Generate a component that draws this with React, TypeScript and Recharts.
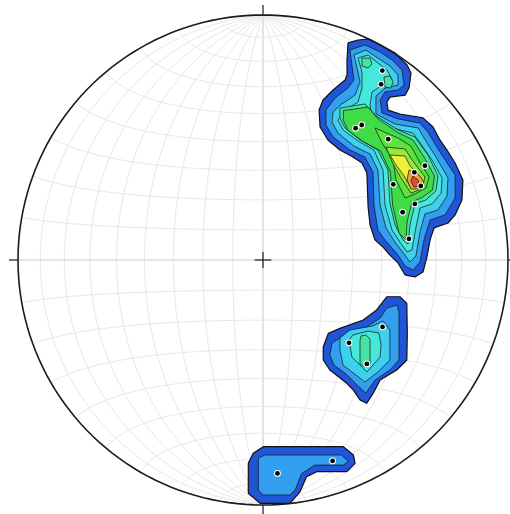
import React from 'react';
import { ScatterChart, Scatter, XAxis, YAxis } from 'recharts';

// Net coordinates in percent of the primitive radius: x = east, y = north.
type Pt = [number, number];

// NE cluster, density contours from lowest to highest level
const NE_L1: Pt[] = [
  [34.7, 88.6], [38.8, 89.8], [42.9, 90.2], [47.8, 87.8], [53.9, 84.5], [58.8, 79.6], [60.4, 76.3],
  [59.6, 70.2], [58.0, 67.3], [51.8, 66.5], [50.6, 64.5], [51.0, 61.2], [55.9, 59.6], [65.3, 58.0],
  [69.4, 54.3], [72.2, 49.0], [75.1, 44.9], [78.4, 39.6], [81.6, 32.7], [81.2, 24.5], [78.4, 18.4],
  [75.5, 15.1], [69.8, 13.1], [68.2, 8.2], [66.9, 1.2], [65.3, -4.9], [62.0, -6.9], [58.0, -6.1],
  [55.1, -1.2], [51.8, 2.0], [49.0, 5.3], [45.7, 8.2], [43.7, 14.3], [42.9, 21.6], [42.4, 35.5],
  [40.4, 39.6], [36.7, 42.0], [31.4, 44.9], [26.5, 49.0], [23.3, 54.3], [22.9, 61.2], [24.5, 65.3],
  [28.6, 69.4], [33.5, 73.5], [34.3, 75.5], [34.3, 81.6],
];
const NE_L2: Pt[] = [
  [35.5, 85.7], [41.6, 87.8], [47.8, 84.9], [52.7, 81.6], [56.7, 77.6], [57.6, 71.4], [55.1, 69.4],
  [49.8, 68.6], [47.8, 65.3], [48.6, 60.0], [55.1, 57.6], [64.1, 55.9], [67.3, 52.2], [72.2, 44.1],
  [78.4, 34.7], [78.4, 25.3], [74.3, 18.4], [68.2, 16.3], [65.7, 8.2], [64.1, -0.8], [61.2, -4.1],
  [58.0, -2.4], [55.1, 2.0], [49.8, 8.2], [46.9, 12.2], [45.3, 22.4], [44.9, 35.9], [41.6, 42.0],
  [35.5, 44.9], [28.6, 50.2], [25.7, 55.1], [25.7, 61.2], [29.4, 66.1], [34.7, 70.2], [37.1, 73.5],
  [36.3, 79.6],
];
const NE_L3: Pt[] = [
  [37.1, 83.7], [42.0, 85.7], [46.9, 82.4], [51.8, 79.2], [55.1, 75.5], [55.1, 71.4], [49.8, 70.2],
  [46.1, 66.9], [46.1, 59.6], [53.9, 55.5], [63.3, 53.9], [65.7, 49.8], [70.6, 42.0], [75.5, 33.5],
  [75.1, 26.1], [71.4, 20.4], [66.1, 18.8], [64.1, 11.4], [62.4, 1.6], [60.0, -0.8], [57.6, 2.4],
  [53.9, 7.3], [50.2, 13.1], [47.8, 22.4], [46.9, 36.7], [43.7, 43.3], [37.1, 46.5], [30.6, 51.8],
  [28.2, 56.3], [28.6, 60.4], [32.2, 63.7], [37.6, 67.3], [39.6, 72.7], [38.4, 78.4],
];
const NE_L4: Pt[] = [
  [38.8, 82.4], [42.9, 83.7], [46.9, 80.4], [51.0, 77.1], [52.7, 73.5], [49.4, 71.8], [44.5, 68.6],
  [43.7, 63.3], [44.5, 58.0], [52.7, 53.9], [61.2, 51.8], [64.1, 47.8], [69.0, 40.8], [73.1, 33.5],
  [72.7, 27.3], [69.0, 22.9], [64.1, 21.2], [62.4, 13.1], [60.8, 4.1], [58.8, 3.3], [55.9, 7.3],
  [52.7, 12.2], [49.8, 22.4], [49.0, 36.7], [45.3, 44.9], [38.8, 48.6], [32.7, 53.1], [30.6, 57.1],
  [33.5, 61.2], [38.8, 64.5], [40.4, 70.2], [40.4, 76.7],
];
const NE_L5: Pt[] = [
  [31.4, 62.0], [41.6, 63.7], [46.1, 58.8], [55.1, 53.1], [62.0, 50.2], [67.3, 42.9], [71.4, 34.3],
  [70.6, 28.2], [66.5, 24.5], [62.0, 22.9], [60.0, 14.3], [59.2, 6.5], [57.1, 8.2], [53.9, 14.3],
  [51.8, 23.3], [51.0, 36.7], [46.9, 44.9], [39.6, 49.0], [33.5, 53.9], [31.4, 58.0],
];
const NE_SPOT_A: Pt[] = [[40.4, 82.4], [43.7, 82.4], [44.5, 80.0], [42.9, 78.4], [40.4, 79.2]];
const NE_SPOT_B: Pt[] = [[49.4, 74.7], [51.8, 75.1], [53.1, 72.7], [52.2, 70.2], [49.8, 70.6]];
const NE_L6: Pt[] = [
  [32.8, 61.0], [42.9, 62.4], [46.9, 57.6], [55.1, 52.0], [61.2, 49.0], [66.0, 41.6], [70.0, 34.3],
  [69.2, 28.6], [64.9, 25.5], [60.8, 23.7], [58.8, 15.5], [58.4, 8.2], [55.5, 11.0], [52.9, 22.4],
  [52.0, 35.9], [48.0, 44.5], [40.8, 48.4], [34.7, 52.9], [32.8, 57.1],
];
const NE_L7: Pt[] = [
  [45.7, 53.9], [55.1, 49.8], [60.4, 46.5], [63.7, 40.4], [67.8, 33.9], [66.5, 29.4], [62.0, 26.9],
  [58.0, 25.3], [54.3, 32.7], [53.1, 40.8], [48.6, 47.8],
];
const NE_L8: Pt[] = [
  [50.2, 46.1], [58.0, 45.3], [61.2, 40.4], [66.1, 33.9], [64.9, 29.0], [60.4, 27.3], [56.3, 33.5],
  [53.1, 39.2],
];
const NE_L9: Pt[] = [
  [51.8, 42.9], [58.0, 42.4], [60.0, 38.4], [64.5, 33.5], [63.3, 30.2], [60.4, 29.4], [57.6, 34.3],
  [54.3, 38.8],
];
const NE_L10: Pt[] = [[59.6, 36.7], [63.3, 35.1], [65.7, 31.8], [63.3, 29.0], [60.4, 29.0], [58.8, 32.7]];
const NE_L11: Pt[] = [[61.2, 34.3], [63.3, 32.7], [63.7, 30.2], [61.6, 29.8], [60.4, 32.2]];

// E cluster below the equator
const E_L1: Pt[] = [
  [50.5, -15.0], [55.9, -15.0], [58.7, -17.7], [58.9, -29.9], [58.7, -40.8], [54.6, -44.9],
  [47.8, -49.0], [45.0, -54.4], [42.3, -58.5], [39.6, -57.1], [36.9, -53.1], [34.2, -50.3],
  [27.3, -44.9], [24.6, -40.8], [24.6, -35.4], [26.7, -29.9], [31.4, -27.9], [40.9, -24.5],
  [46.4, -20.4],
];
const E_L2: Pt[] = [
  [50.6, -19.6], [54.7, -18.4], [55.5, -21.2], [55.5, -40.8], [51.8, -44.9], [45.7, -49.0],
  [42.0, -54.3], [38.8, -51.4], [33.9, -46.5], [29.0, -42.9], [27.3, -38.8], [28.2, -33.9],
  [32.7, -31.0], [41.6, -27.8], [47.8, -23.7],
];
const E_L3: Pt[] = [
  [35.5, -28.6], [44.9, -26.9], [49.0, -24.9], [51.8, -28.6], [51.8, -40.8], [46.9, -45.7],
  [41.6, -49.8], [36.3, -45.7], [32.7, -42.9], [31.4, -36.7], [31.4, -31.8],
];
const E_L4: Pt[] = [
  [36.7, -30.6], [42.9, -29.0], [47.3, -29.8], [48.2, -34.7], [47.8, -39.6], [42.4, -45.7],
  [36.3, -39.6], [35.1, -32.7],
];
const E_L5: Pt[] = [
  [40.0, -31.0], [42.0, -30.6], [43.7, -32.2], [43.7, -42.4], [41.6, -43.7], [39.6, -42.4], [39.6, -32.7],
];

// S cluster on the primitive
const S_L1: Pt[] = [
  [-6.0, -83.0], [-4.0, -78.9], [0.1, -76.2], [32.8, -76.2], [36.9, -79.6], [37.6, -83.0],
  [34.2, -86.4], [21.9, -86.4], [17.8, -88.4], [15.1, -94.6], [11.0, -99.3], [-1.2, -99.3], [-6.0, -95.2],
];
const S_L2: Pt[] = [
  [-1.9, -80.9], [0.8, -79.6], [32.1, -79.6], [34.8, -82.3], [32.8, -83.7], [21.2, -83.7],
  [15.8, -87.1], [13.1, -93.9], [11.0, -95.9], [0.1, -95.9], [-1.9, -93.9],
];

const POLES: Pt[] = [
  [48.7, 77.3], [48.2, 71.7], [37.8, 53.8], [40.3, 55.1], [51.1, 49.3], [66.1, 38.5], [61.8, 35.8],
  [53.2, 30.9], [64.4, 30.2], [62.0, 22.9], [57.0, 19.5], [59.6, 8.6],
  [48.8, -27.3], [35.1, -33.8], [42.4, -42.4],
  [5.9, -87.1], [28.4, -82.0],
];

const LEVEL_COLORS = [
  '#1f55d6', '#339ff0', '#3fd0ee', '#46e8dc', '#48e3a4', '#3fdc48',
  '#5fe23c', '#98e83c', '#eef03c', '#f0a040', '#d9502e',
];

const CONTOURS: { level: number; pts: Pt[] }[] = [
  ...[NE_L1, NE_L2, NE_L3, NE_L4, NE_L5, NE_L6, NE_L7, NE_L8, NE_L9, NE_L10, NE_L11].map((pts, level) => ({ level, pts })),
  { level: 4, pts: NE_SPOT_A },
  { level: 4, pts: NE_SPOT_B },
  ...[E_L1, E_L2, E_L3, E_L4, E_L5].map((pts, level) => ({ level, pts })),
  ...[S_L1, S_L2].map((pts, level) => ({ level, pts })),
].sort((a, b) => a.level - b.level);

// N, S, W, E ticks and the centre cross
const TICKS: [Pt, Pt][] = [
  [[0, 100], [0, 104.1]],
  [[0, -100], [0, -104]],
  [[-100, 0], [-103.7, 0]],
  [[100, 0], [103.7, 0]],
  [[-3.4, 0], [3.4, 0]],
  [[0, -3.3], [0, 3.3]],
];

const X_DOMAIN = [-107.35, 100.82];
const Y_DOMAIN = [-103.67, 106.12];

// Schmidt (equal-area) net, lower hemisphere
const rad = Math.PI / 180;
function schmidt(lon: number, lat: number) {
  const x = Math.cos(lat * rad) * Math.sin(lon * rad);
  const y = Math.sin(lat * rad);
  const z = Math.cos(lat * rad) * Math.cos(lon * rad);
  const k = 100 / Math.sqrt(1 + z);
  return { x: x * k, y: y * k };
}

const range = (a: number, b: number, s: number) => {
  const out: number[] = [];
  for (let v = a; v <= b + 1e-9; v += s) out.push(v);
  return out;
};

const gridLines: { key: string; main: boolean; data: { x: number; y: number }[] }[] = [
  ...range(-80, 80, 10).map((lon) => ({
    key: `m${lon}`,
    main: lon === 0,
    data: range(-90, 90, 2).map((lat) => schmidt(lon, lat)),
  })),
  ...range(-80, 80, 10).map((lat) => ({
    key: `s${lat}`,
    main: lat === 0,
    data: range(-90, 90, 2).map((lon) => schmidt(lon, lat)),
  })),
];

const primitive = range(0, 360, 2).map((a) => ({ x: 100 * Math.cos(a * rad), y: 100 * Math.sin(a * rad) }));

const closed = (pts: Pt[]) => [...pts, pts[0]].map(([x, y]) => ({ x, y }));
const NoShape = () => <g />;

const PoleDot = (p: any) => (
  <g>
    <circle cx={p.cx} cy={p.cy} r={3.4} fill="#fff" />
    <circle cx={p.cx} cy={p.cy} r={2.4} fill="#000" />
  </g>
);

export default function App() {
  return (
    <div style={{ position: 'fixed', left: 0, top: 0, width: 510, height: 514, background: '#fff', overflow: 'hidden' }}>
      <ScatterChart width={510} height={514} margin={{ top: 0, right: 0, bottom: 0, left: 0 }}>
        <XAxis type="number" dataKey="x" domain={X_DOMAIN} hide allowDataOverflow />
        <YAxis type="number" dataKey="y" domain={Y_DOMAIN} hide allowDataOverflow />
        {gridLines.map((g) => (
          <Scatter
            key={g.key}
            data={g.data}
            shape={NoShape}
            line={{ stroke: g.main ? '#dcdcdc' : '#e8e8e8', strokeWidth: g.main ? 1.6 : 1, fill: 'none' }}
            isAnimationActive={false}
          />
        ))}
        {CONTOURS.map((c, i) => (
          <Scatter
            key={`c${i}`}
            data={closed(c.pts)}
            shape={NoShape}
            line={{
              fill: LEVEL_COLORS[c.level],
              stroke: '#111',
              strokeWidth: c.level === 0 ? 1.2 : 0.7,
              strokeLinejoin: 'round',
            }}
            isAnimationActive={false}
          />
        ))}
        <Scatter
          data={primitive}
          shape={NoShape}
          line={{ stroke: '#1b1b1b', strokeWidth: 1.6, fill: 'none' }}
          isAnimationActive={false}
        />
        {TICKS.map(([a, b], i) => (
          <Scatter
            key={`t${i}`}
            data={[a, b].map(([x, y]) => ({ x, y }))}
            shape={NoShape}
            line={{ stroke: '#2a2a2a', strokeWidth: 1.3, fill: 'none' }}
            isAnimationActive={false}
          />
        ))}
        <Scatter
          data={POLES.map(([x, y]) => ({ x, y }))}
          shape={PoleDot}
          isAnimationActive={false}
        />
      </ScatterChart>
    </div>
  );
}
